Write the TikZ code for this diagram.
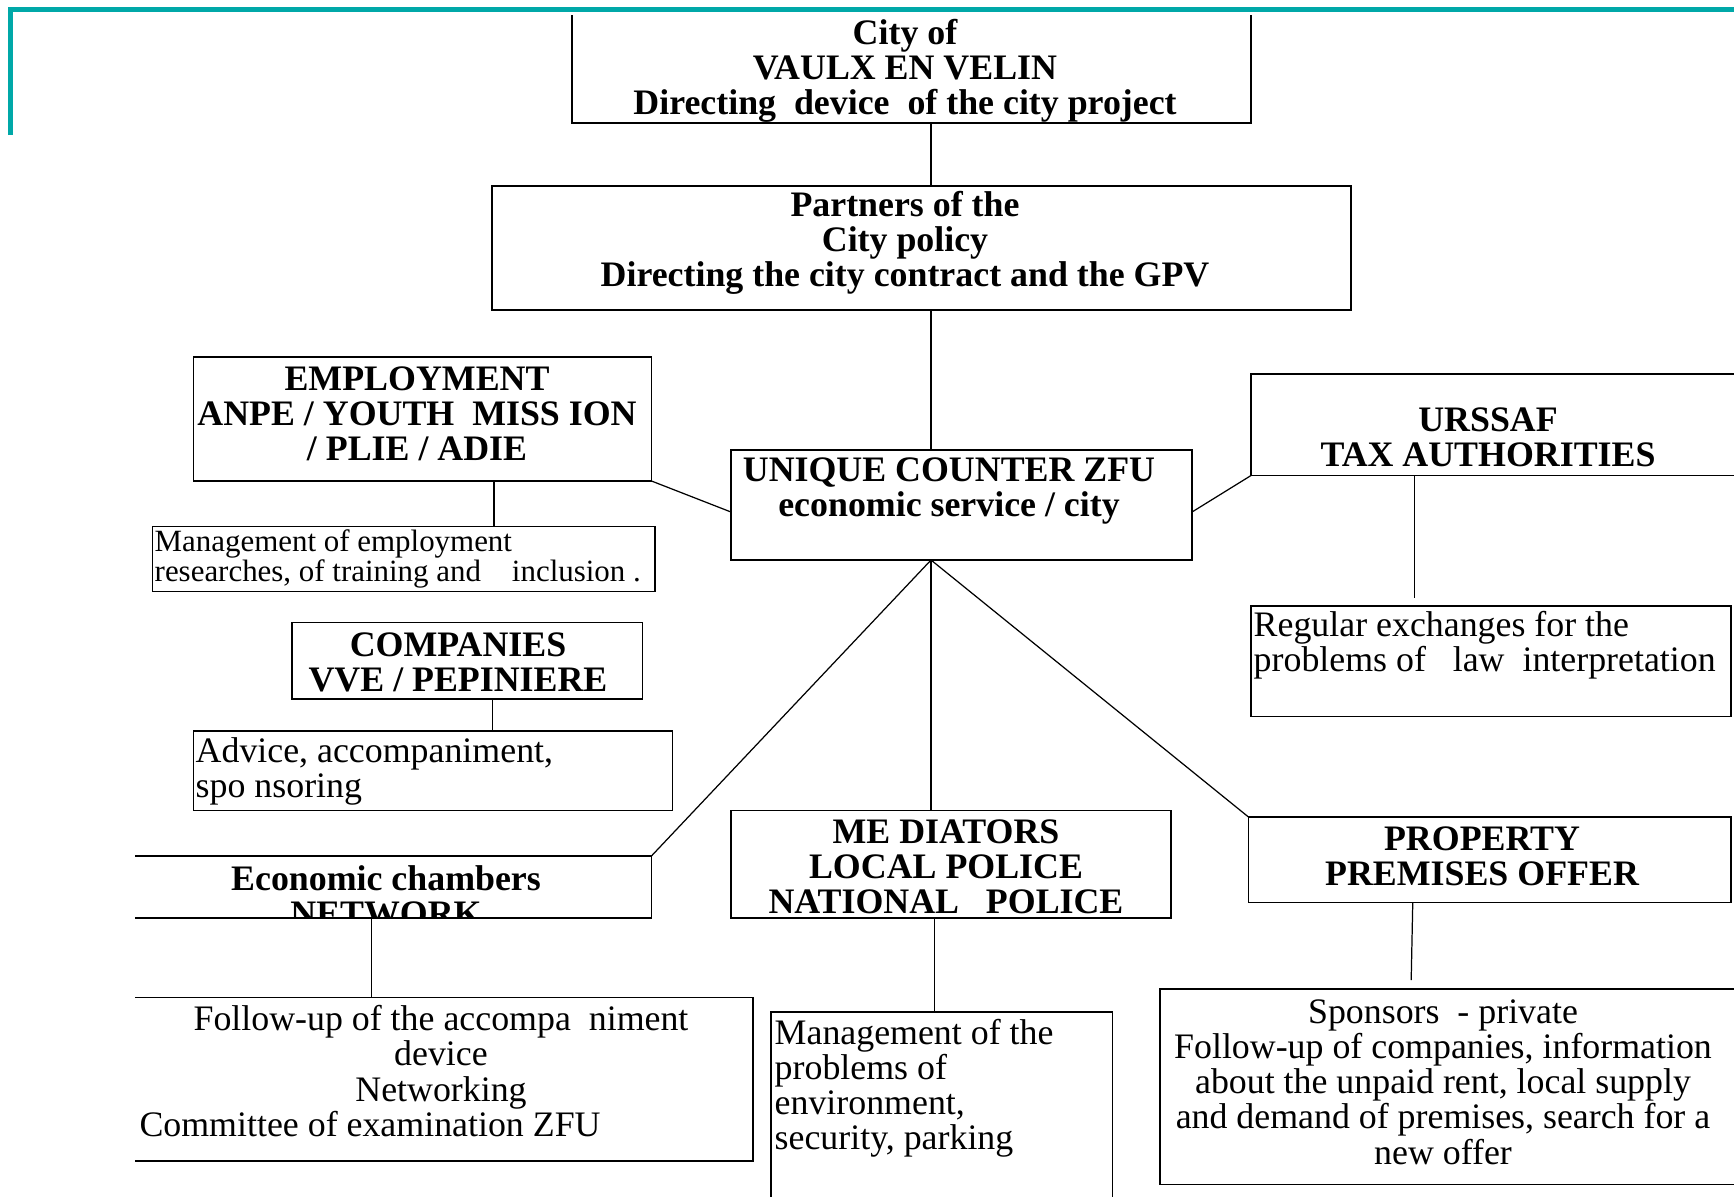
\documentclass[tikz,border=0pt]{standalone}
\usepackage{fontspec}
\setmainfont{Liberation Serif}
\usepackage{tikz}
\definecolor{framecol}{RGB}{0,168,168}

\begin{document}
\begin{tikzpicture}[x=0.1mm, y=-0.1mm,
    box/.style={draw, line width=0.45pt, rectangle, inner sep=0pt, outer sep=0pt},
    openbox/.style={rectangle, inner sep=0pt, outer sep=0pt},
    side/.style={line width=0.45pt},
    head/.style={font=\bfseries\fontsize{10.2}{10}\selectfont, align=center, inner sep=0pt},
    note/.style={font=\fontsize{10.2}{10}\selectfont, align=left, inner sep=0pt},
    link/.style={line width=0.35pt}]
    \useasboundingbox (0,0) rectangle (1734,1196);
    \draw[framecol, line width=0.5mm] (10,135) |- (1734,9);

    \node[openbox, minimum width=67.9mm, minimum height=10.8mm] at (911.5, 69) (city) {};
    \node[box, minimum width=85.9mm, minimum height=12.4mm] at (921.5, 248) (partners) {};
    \node[box, minimum width=46.1mm, minimum height=11.0mm] at (961.5, 505) (unique) {};
    \node[box, minimum width=45.8mm, minimum height=12.4mm] at (422.5, 419) (employ) {};
    \node[box, minimum width=50.2mm, minimum height=6.5mm] at (403.7, 559) (empnote) {};
    \node[openbox, minimum width=48.3mm, minimum height=10.15mm] at (1492.5, 424.75) (urssaf) {};
    \node[box, minimum width=48.0mm, minimum height=11.06mm] at (1491, 661) (regular) {};
    \node[box, minimum width=35.05mm, minimum height=7.63mm] at (467.25, 660.8) (companies) {};
    \node[box, minimum width=47.9mm, minimum height=7.96mm] at (433, 770.8) (advice) {};
    \node[openbox, minimum width=51.64mm, minimum height=6.2mm] at (393.2, 887) (chambers) {};
    \node[openbox, minimum width=61.8mm, minimum height=16.35mm] at (444, 1079.25) (follow) {};
    \node[box, minimum width=44.0mm, minimum height=10.74mm] at (951, 864.3) (mediators) {};
    \node[openbox, minimum width=34.15mm, minimum height=18.8mm] at (941.75, 1106) (security) {};
    \node[box, minimum width=48.25mm, minimum height=8.54mm] at (1489.75, 859.7) (property) {};
    \node[openbox, minimum width=57.4mm, minimum height=19.57mm] at (1447, 1086.55) (sponsors) {};

    \draw[side] (city.north west) -- (city.south west) -- (city.south east) -- (city.north east);
    \draw[side] (urssaf.north east) -| (urssaf.south west) -- (urssaf.south east);
    \draw[side] (chambers.north west) -| (chambers.south east) -- (chambers.south west);
    \draw[side] (follow.north west) -| (follow.south east) -- (follow.south west);
    \draw[side] (security.south west) |- (security.north east) -- (security.south east);
    \draw[side] (sponsors.north east) -| (sponsors.south west) -- (sponsors.south east);

    \node[head] at (905, 71) (cityT) {City of\\VAULX EN VELIN\\Directing\ \ device\ \ of the city project};
    \node[head] at (905, 243) (partnersT) {Partners of the\\City policy\\Directing the city contract and the GPV};
    \node[head] at (417, 414) (employT) {EMPLOYMENT\\ANPE / YOUTH\ \ MISS ION\\/ PLIE / ADIE};
    \node[note, anchor=west, font=\fontsize{8.8}{8.3}\selectfont] at (154, 559) (empnoteT) {Management of employment\\researches, of training and\ \ \ \ inclusion\ .};
    \node[head] at (949, 491) (uniqueT) {UNIQUE COUNTER ZFU\\economic service / city};
    \node[head] at (1488, 437) (urssafT) {URSSAF\\TAX AUTHORITIES};
    \node[note, anchor=west] at (1253, 645) (regularT) {Regular exchanges for the\\problems of\ \ \ law\ \ interpretation};
    \node[head] at (458, 662) (companiesT) {COMPANIES\\VVE / PEPINIERE};
    \node[note, anchor=west] at (195, 771) (adviceT) {Advice, accompaniment,\\spo nsoring};
    \begin{scope}
        \clip (chambers.north west) rectangle (chambers.south east);
        \node[head] at (386, 896) (chambersT) {Economic chambers\\NETWORK};
    \end{scope}
    \node[note, align=center] at (441, 1071) (followT) {Follow-up of the accompa\ \ niment\\device\\Networking\\Committee of examination ZFU\hspace{14.2mm}\mbox{}};
    \node[head] at (946, 867) (mediatorsT) {ME DIATORS\\LOCAL POLICE\\NATIONAL\ \ \ POLICE};
    \node[note, anchor=west] at (774, 1088) (securityT) {Management of the\\problems of\\environment,\\security, parking};
    \node[head] at (1482, 856) (propertyT) {PROPERTY\\PREMISES OFFER};
    \node[note, align=center] at (1443, 1082) (sponsorsT) {Sponsors\ \ - private\\Follow-up of companies, information\\about the unpaid rent, local supply\\and demand of premises, search for a\\new offer};

    \coordinate (hub) at ([xshift=-3.05mm]unique.south);
    \coordinate (e1) at ([xshift=7.15mm]employ.south);
    \coordinate (u1) at ([xshift=-7.8mm]urssaf.south);
    \coordinate (c1) at ([xshift=2.5mm]companies.south);
    \coordinate (n1) at ([xshift=-2.16mm]chambers.south);
    \coordinate (m1) at ([xshift=-1.65mm]mediators.south);
    \coordinate (p1) at ([xshift=-7.7mm]property.south);

    \draw[link] (city.south -| hub) -- (partners.north -| hub);
    \draw[link] (partners.south -| hub) -- (unique.north -| hub);
    \draw[link] (employ.south east) -- ([yshift=-0.7mm]unique.west);
    \draw[link] ([yshift=-0.7mm]unique.east) -- (urssaf.south west);
    \draw[link] (hub) -- (chambers.north east);
    \draw[link] (hub) -- (mediators.north -| hub);
    \draw[link] (hub) -- (property.north west);
    \draw[link] (e1) -- (e1 |- empnote.north);
    \draw[link, shorten >=0.8mm] (u1) -- (u1 |- regular.north);
    \draw[link] (c1) -- (c1 |- advice.north);
    \draw[link] (n1) -- (n1 |- follow.north);
    \draw[link] (m1) -- (m1 |- security.north);
    \draw[link, shorten >=0.87mm] (p1) -- ([xshift=-3.6mm]sponsors.north);
\end{tikzpicture}
\end{document}
